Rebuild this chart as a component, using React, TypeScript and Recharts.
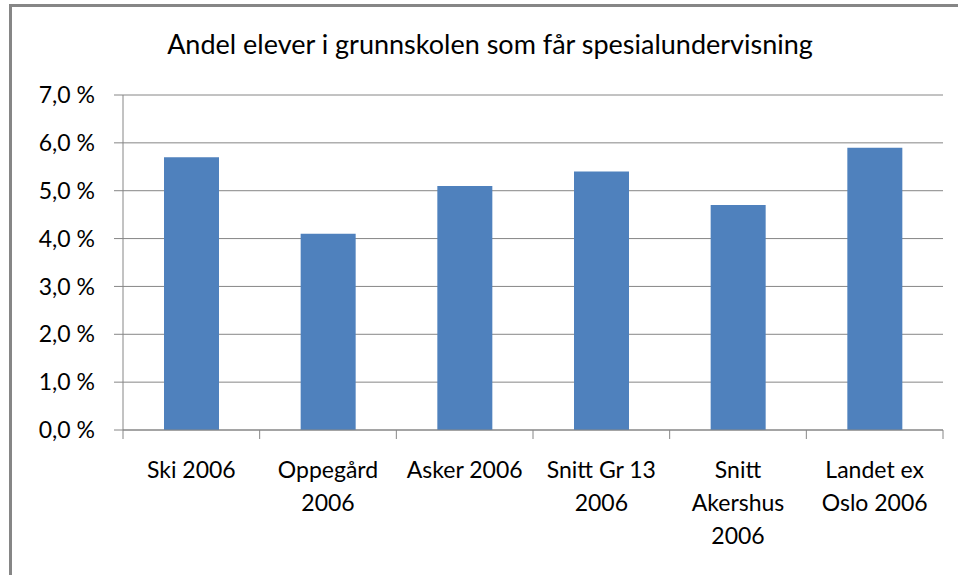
import React from "react";
import { BarChart, Bar, XAxis, YAxis, CartesianGrid } from "recharts";

const categories = [
  "Ski 2006",
  "Oppegård 2006",
  "Asker 2006",
  "Snitt Gr 13 2006",
  "Snitt Akershus 2006",
  "Landet ex Oslo 2006",
];
const labelLines = [
  ["Ski 2006"],
  ["Oppegård", "2006"],
  ["Asker 2006"],
  ["Snitt Gr 13", "2006"],
  ["Snitt", "Akershus", "2006"],
  ["Landet ex", "Oslo 2006"],
];
const values = [5.7, 4.1, 5.1, 5.4, 4.7, 5.9];
const yTicks = [0, 1, 2, 3, 4, 5, 6, 7];
const title = "Andel elever i grunnskolen som får spesialundervisning";

const data = categories.map((c, i) => ({ name: c, value: values[i] }));

const W = 958;
const H = 575;
const M = { top: 95, right: 15, left: 10, bottom: 0 };
const Y_W = 113;
const X_H = 145;
const PLOT_W = W - M.left - M.right - Y_W;
const GRAY = "#868686";
const FONT = "Lato, 'Open Sans', sans-serif";
const fmt = (v: number) => v.toFixed(1).replace(".", ",") + " %";

const XTick = (props: any) => {
  const { x, y, payload, index } = props;
  const half = PLOT_W / categories.length / 2;
  const lines = labelLines[payload?.index ?? index] || [String(payload.value)];
  const last = (payload?.index ?? index) === categories.length - 1;
  return (
    <g>
      <line x1={x - half} x2={x - half} y1={y} y2={y + 9} stroke={GRAY} />
      {last && <line x1={x + half} x2={x + half} y1={y} y2={y + 9} stroke={GRAY} />}
      <text
        x={x}
        y={y + 48}
        textAnchor="middle"
        fontFamily={FONT}
        fontSize={23}
        fill="#000"
      >
        {lines.map((l: string, i: number) => (
          <tspan key={i} x={x} dy={i === 0 ? 0 : 33}>
            {l}
          </tspan>
        ))}
      </text>
    </g>
  );
};

export default function App() {
  return (
    <div
      style={{
        position: "absolute",
        left: 0,
        top: 0,
        width: W,
        height: H,
        overflow: "hidden",
        background: "#fff",
      }}
    >
      <div
        style={{
          position: "absolute",
          left: 9,
          top: 4,
          width: W,
          height: H,
          borderTop: `3px solid ${GRAY}`,
          borderLeft: `3px solid ${GRAY}`,
          boxSizing: "border-box",
        }}
      />
      <div
        style={{
          position: "absolute",
          left: 0,
          top: 27,
          width: 980,
          textAlign: "center",
          fontFamily: FONT,
          fontSize: 27,
          lineHeight: "33px",
          color: "#000",
          whiteSpace: "nowrap",
        }}
      >
        {title}
      </div>
      <div style={{ position: "absolute", left: 0, top: 0 }}>
        <BarChart width={W} height={H} data={data} margin={M} barCategoryGap="30%">
          <CartesianGrid vertical={false} stroke={GRAY} strokeDasharray="" />
          <XAxis
            dataKey="name"
            height={X_H}
            axisLine={{ stroke: GRAY }}
            tickLine={false}
            tickSize={0}
            tickMargin={0}
            interval={0}
            tick={<XTick />}
          />
          <YAxis
            width={Y_W}
            domain={[0, 7]}
            ticks={yTicks}
            interval={0}
            tickFormatter={fmt}
            axisLine={{ stroke: GRAY }}
            tickLine={{ stroke: GRAY }}
            tickSize={9}
            tickMargin={19}
            tick={{ fontFamily: FONT, fontSize: 23, fill: "#000" }}
          />
          <Bar dataKey="value" fill="#4F81BD" isAnimationActive={false} />
        </BarChart>
      </div>
    </div>
  );
}
